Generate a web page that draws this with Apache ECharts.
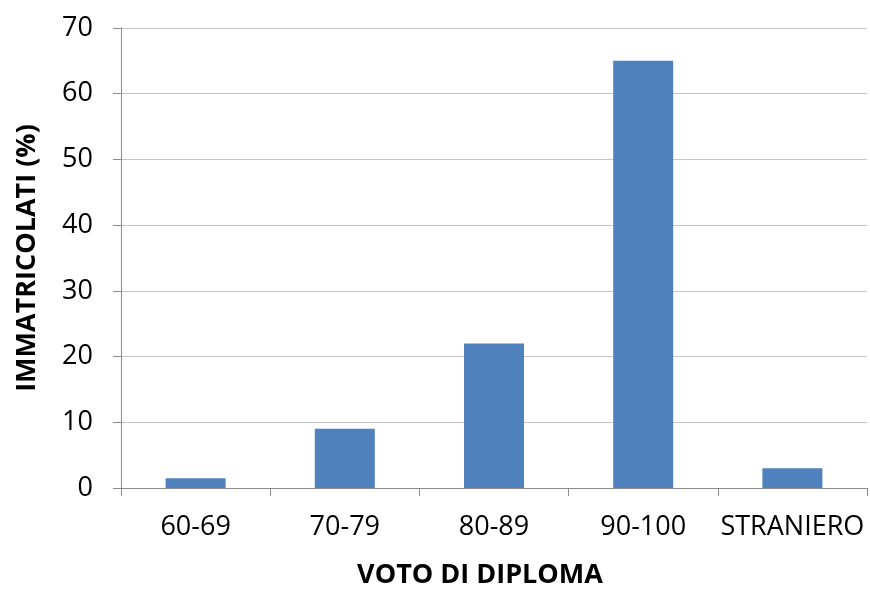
<!DOCTYPE html>
<html>
<head>
<meta charset="utf-8">
<script src="https://cdn.jsdelivr.net/npm/echarts@6/dist/echarts.min.js"></script>
<style>html,body{margin:0;padding:0;background:#fff}#c{width:870px;height:594px}</style>
</head>
<body>
<div id="c"></div>
<script>
const categories = ['60-69', '70-79', '80-89', '90-100', 'STRANIERO'];
const values = [1.5, 9, 22, 65, 3];
const yTicks = [0, 10, 20, 30, 40, 50, 60, 70];
const xTitle = 'VOTO DI DIPLOMA';
const yTitle = 'IMMATRICOLATI (%)';

const chart = echarts.init(document.getElementById('c'), null, {renderer: 'canvas'});
const font = '"Open Sans", sans-serif';
chart.setOption({
  animation: false,
  grid: {left: 121, right: 3, top: 28, bottom: 102, containLabel: false},
  xAxis: {
    type: 'category',
    data: categories,
    axisLine: {show: true, lineStyle: {color: '#8c8c8c', width: 1}},
    axisTick: {show: true, length: 8, interval: 0, alignWithLabel: false, lineStyle: {color: '#8c8c8c'}},
    axisLabel: {color: '#000', fontFamily: font, fontSize: 27, margin: 26, interval: 0},
    name: xTitle,
    nameLocation: 'middle',
    nameGap: 74,
    nameTextStyle: {color: '#000', fontFamily: font, fontSize: 27, fontWeight: 'bold', padding: [0, 28, 0, 0]}
  },
  yAxis: {
    type: 'value',
    min: yTicks[0],
    max: yTicks[yTicks.length - 1],
    interval: 10,
    axisLine: {show: true, lineStyle: {color: '#8c8c8c', width: 1}},
    axisTick: {show: true, length: 8, lineStyle: {color: '#8c8c8c'}},
    splitLine: {show: true, lineStyle: {color: '#c6c6c6', width: 1}},
    axisLabel: {color: '#000', fontFamily: font, fontSize: 27, margin: 28},
    name: yTitle,
    nameLocation: 'middle',
    nameGap: 80,
    nameRotate: 90,
    nameTextStyle: {color: '#000', fontFamily: font, fontSize: 27, fontWeight: 'bold'}
  },
  series: [{
    type: 'bar',
    data: values,
    barWidth: 60,
    itemStyle: {color: '#4f81bd'}
  }]
});
</script>
</body>
</html>
